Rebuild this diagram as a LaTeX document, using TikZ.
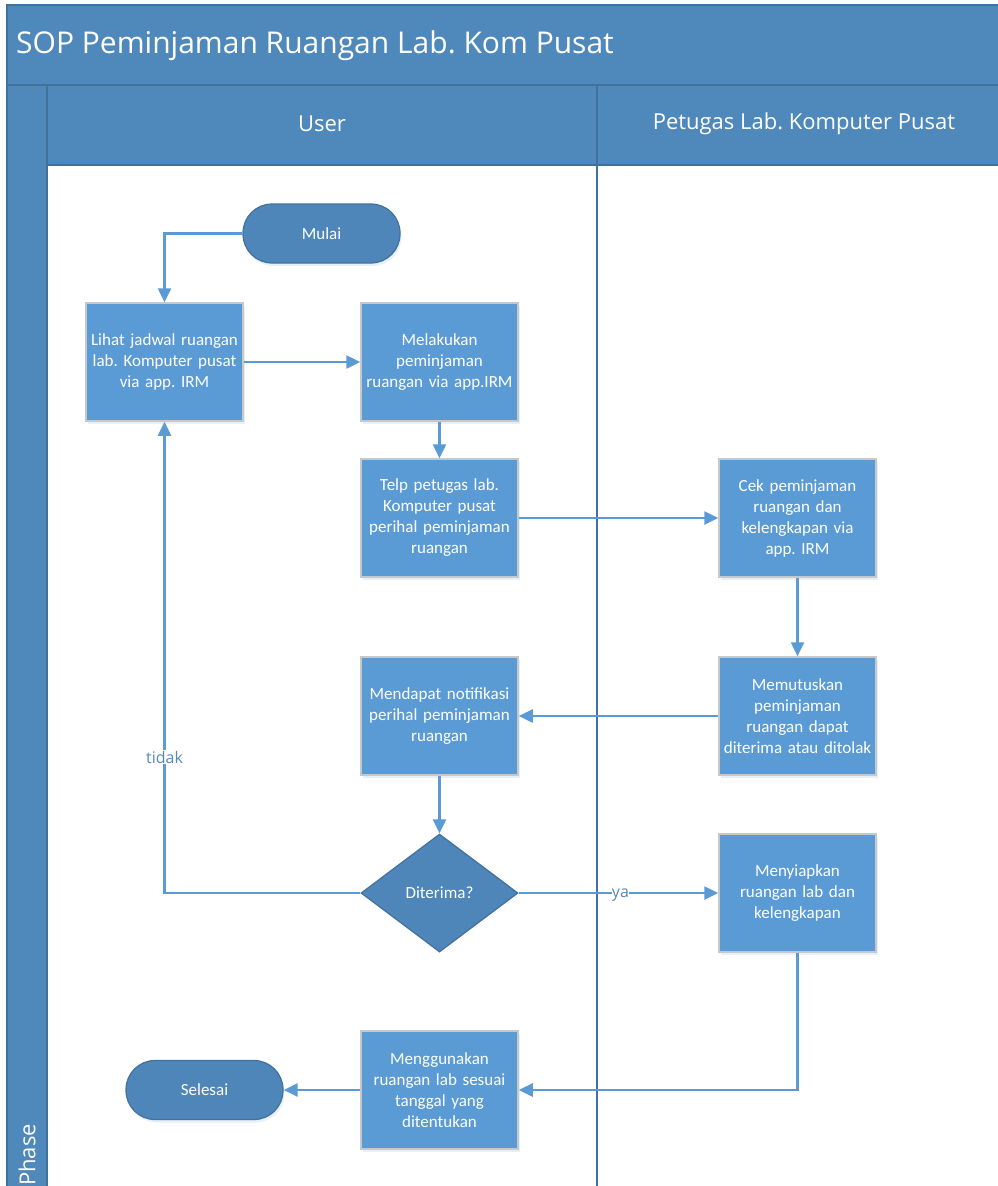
\documentclass[tikz,border=0pt]{standalone}
\usepackage{fontspec}
\setmainfont{Carlito}
\newfontfamily\hdfont{Open Sans}
\usetikzlibrary{arrows.meta,shapes.geometric,shadows}
\definecolor{hdr}{HTML}{4F88BB}
\definecolor{hdrline}{HTML}{41719C}
\definecolor{procfill}{HTML}{5B9BD5}
\definecolor{procline}{HTML}{C6C9CC}
\definecolor{termfill}{HTML}{4E86B9}
\definecolor{conncol}{HTML}{5B9BD5}
\definecolor{lblcol}{HTML}{5489BE}
\frenchspacing
\begin{document}
\begin{tikzpicture}[x=1pt,y=-1pt,
  procbox/.style={rectangle, fill=procfill, draw=procline, line width=1.5pt,
    minimum width=157pt, minimum height=118pt, text width=155pt, align=center,
    text=white, font=\fontsize{17}{21}\selectfont, inner sep=0pt,
    drop shadow={shadow xshift=1.5pt, shadow yshift=-3pt, fill=procfill!20, opacity=0.7}},
  termbox/.style={rectangle, rounded corners=29pt, fill=termfill, draw=hdrline, line width=1.2pt,
    minimum width=157pt, minimum height=59pt, align=center, text=white,
    font=\fontsize{17}{21}\selectfont, inner sep=0pt,
    drop shadow={shadow xshift=1.5pt, shadow yshift=-3pt, fill=procfill!20, opacity=0.7}},
  decbox/.style={diamond, fill=termfill, draw=hdrline, line width=1.2pt,
    minimum width=157pt, minimum height=118pt, align=center, text=white,
    font=\fontsize{17}{21}\selectfont, inner sep=0pt},
  conn/.style={draw=conncol, line width=2.5pt, -{Triangle[length=14pt,width=13pt]}},
  lbl/.style={text=lblcol, font=\hdfont\fontsize{16}{18}\selectfont, inner sep=1pt},
  band/.style={fill=hdr, draw=hdrline, line width=1.5pt}
]
\useasboundingbox (0,0) rectangle (998,1186);
\clip (0,0) rectangle (998,1186);
% frame
\path[band] (7,5) rectangle (1012,85);
\path[band] (7,85) rectangle (47,1200);
\path[band] (47,85) rectangle (597,165);
\path[band] (597,85) rectangle (1012,165);
\path[fill=white, draw=hdrline, line width=1.5pt] (47,165) rectangle (1012,1200);
\draw[hdrline, line width=2pt] (597,85) -- (597,1200);
% texts of frame
\node[anchor=west, text=white, font=\hdfont\fontsize{30}{34}\selectfont, inner sep=0pt] (title) at (16,46) {SOP Peminjaman Ruangan Lab. Kom Pusat};
\node[text=white, font=\hdfont\fontsize{22}{26}\selectfont, inner sep=0pt] (user) at (322,124) {User};
\node[text=white, font=\hdfont\fontsize{22}{26}\selectfont, inner sep=0pt] (petugas) at (804,124) {Petugas Lab. Komputer Pusat};
\node[rotate=90, anchor=west, text=white, font=\hdfont\fontsize{22}{26}\selectfont, inner sep=0pt] (phase) at (27,1186) {Phase};
% nodes
\node[termbox] (mulai) at (321.5,233.5) {Mulai};
\node[procbox] (lihat) at (164.5,362) {Lihat jadwal ruangan\\lab. Komputer pusat\\via app. IRM};
\node[procbox] (melakukan) at (439.5,362) {Melakukan\\peminjaman\\ruangan via app.IRM};
\node[procbox] (telp) at (439.5,518) {Telp petugas lab.\\Komputer pusat\\perihal peminjaman\\ruangan};
\node[procbox] (cek) at (797.5,518) {Cek peminjaman\\ruangan dan\\kelengkapan via\\app. IRM};
\node[procbox] (memutuskan) at (797.5,716) {Memutuskan\\peminjaman\\ruangan dapat\\diterima atau ditolak};
\node[procbox] (mendapat) at (439.5,716) {Mendapat notifikasi\\perihal peminjaman\\ruangan\\[21pt]};
\node[decbox] (diterima) at (439.5,893) {Diterima?};
\node[procbox] (menyiapkan) at (797.5,893) {Menyiapkan\\ruangan lab dan\\kelengkapan};
\node[procbox] (menggunakan) at (439.5,1090) {Menggunakan\\ruangan lab sesuai\\tanggal yang\\ditentukan};
\node[termbox] (selesai) at (204.5,1090) {Selesai};
% connectors
\draw[conn] (mulai.west) -| (lihat.north);
\draw[conn] (lihat.east) -- (melakukan.west);
\draw[conn] (melakukan.south) -- (telp.north);
\draw[conn] (telp.east) -- (cek.west);
\draw[conn] (cek.south) -- (memutuskan.north);
\draw[conn] (memutuskan.west) -- (mendapat.east);
\draw[conn] (mendapat.south) -- (diterima.north);
\draw[conn] (diterima.west) -| node[lbl, fill=white, pos=0.644] {tidak} (lihat.south);
\draw[conn] (diterima.east) -- node[lbl, fill=white, inner sep=0pt, pos=0.51, yshift=-2pt] {ya} (menyiapkan.west);
\draw[conn] (menyiapkan.south) |- (menggunakan.east);
\draw[conn] (menggunakan.west) -- (selesai.east);
\end{tikzpicture}
\end{document}
